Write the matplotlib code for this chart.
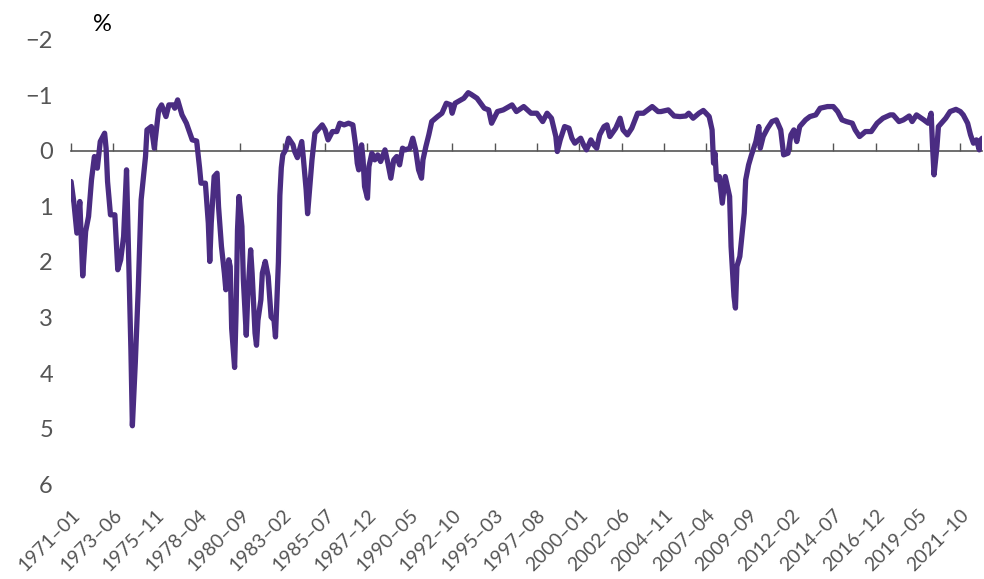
import matplotlib.pyplot as plt
import numpy as np
import pandas as pd

plt.rcParams['font.family'] = ['Lato', 'DejaVu Sans']

months = [
    '1971-01', '1971-03', '1971-05', '1971-07', '1971-09', '1971-11', '1972-01', '1972-03',
    '1972-05', '1972-07', '1972-09', '1972-12', '1973-01', '1973-02', '1973-04', '1973-07',
    '1973-09', '1973-11', '1974-01', '1974-03', '1974-04', '1974-06', '1974-07', '1974-09',
    '1974-11', '1975-01', '1975-04', '1975-05', '1975-08', '1975-10', '1976-01', '1976-03',
    '1976-06', '1976-08', '1976-11', '1976-12', '1977-02', '1977-05', '1977-08', '1977-12',
    '1978-03', '1978-05', '1978-06', '1978-09', '1978-11', '1978-12', '1979-01', '1979-03',
    '1979-05', '1979-06', '1979-08', '1979-10', '1979-11', '1980-01', '1980-02', '1980-03',
    '1980-05', '1980-06', '1980-07', '1980-08', '1980-10', '1980-11', '1981-01', '1981-02',
    '1981-04', '1981-05', '1981-07', '1981-08', '1981-09', '1981-11', '1981-12', '1982-02',
    '1982-04', '1982-06', '1982-08', '1982-09', '1982-11', '1982-12', '1983-01', '1983-02',
    '1983-04', '1983-06', '1983-09', '1983-10', '1983-12', '1984-03', '1984-04', '1984-06',
    '1984-07', '1984-10', '1984-12', '1985-02', '1985-05', '1985-07', '1985-09', '1985-12',
    '1986-03', '1986-05', '1986-08', '1986-11', '1987-02', '1987-04', '1987-05', '1987-06',
    '1987-07', '1987-08', '1987-09', '1987-10', '1987-12', '1988-01', '1988-03', '1988-05',
    '1988-07', '1988-09', '1988-12', '1989-02', '1989-04', '1989-06', '1989-08', '1989-10',
    '1989-12', '1990-02', '1990-05', '1990-07', '1990-09', '1990-11', '1991-01', '1991-02',
    '1991-04', '1991-06', '1991-08', '1991-12', '1992-03', '1992-06', '1992-09', '1992-10',
    '1992-12', '1993-04', '1993-06', '1993-09', '1993-11', '1994-03', '1994-08', '1994-11',
    '1995-01', '1995-05', '1995-09', '1996-03', '1996-06', '1996-11', '1997-04', '1997-08',
    '1997-12', '1998-03', '1998-06', '1998-09', '1998-10', '1998-12', '1999-03', '1999-06',
    '1999-08', '1999-10', '2000-02', '2000-04', '2000-06', '2000-09', '2000-11', '2001-01',
    '2001-03', '2001-06', '2001-08', '2001-10', '2002-02', '2002-05', '2002-07', '2002-10',
    '2003-01', '2003-05', '2003-09', '2004-03', '2004-07', '2004-09', '2005-02', '2005-06',
    '2005-10', '2006-02', '2006-04', '2006-07', '2006-11', '2007-02', '2007-06', '2007-08',
    '2007-09', '2007-10', '2007-11', '2008-01', '2008-03', '2008-05', '2008-07', '2008-08',
    '2008-09', '2008-11', '2008-12', '2009-01', '2009-03', '2009-06', '2009-07', '2009-09',
    '2009-11', '2010-02', '2010-04', '2010-05', '2010-07', '2010-10', '2011-01', '2011-04',
    '2011-07', '2011-09', '2011-12', '2012-02', '2012-04', '2012-06', '2012-08', '2012-12',
    '2013-03', '2013-07', '2013-10', '2014-03', '2014-07', '2014-10', '2015-01', '2015-04',
    '2015-08', '2015-10', '2016-01', '2016-05', '2016-09', '2017-01', '2017-05', '2017-10',
    '2017-12', '2018-04', '2018-07', '2018-11', '2019-01', '2019-04', '2019-09', '2019-12',
    '2020-02', '2020-03', '2020-04', '2020-06', '2020-07', '2020-09', '2020-12', '2021-03',
    '2021-07', '2021-10', '2021-12', '2022-03', '2022-05', '2022-07', '2022-09', '2022-11',
    '2022-12', '2023-01',
]

values = [
    0.55, 0.94, 1.48, 0.91, 2.25, 1.45, 1.18, 0.52,
    0.10, 0.31, -0.17, -0.32, -0.05, 0.55, 1.15, 1.15,
    2.14, 1.96, 1.54, 0.34, 1.42, 3.59, 4.95, 3.82,
    2.50, 0.88, 0.10, -0.38, -0.44, -0.05, -0.74, -0.83,
    -0.62, -0.83, -0.83, -0.77, -0.92, -0.65, -0.50, -0.20,
    -0.18, 0.30, 0.58, 0.58, 1.30, 1.99, 1.30, 0.46,
    0.40, 1.00, 1.72, 2.20, 2.50, 1.96, 2.08, 3.20,
    3.90, 2.92, 1.42, 0.82, 1.36, 2.32, 3.32, 2.62,
    1.78, 2.20, 3.28, 3.50, 3.05, 2.68, 2.20, 1.99,
    2.26, 2.99, 3.05, 3.35, 2.00, 0.80, 0.30, 0.07,
    -0.02, -0.23, -0.11, 0.00, 0.12, -0.17, 0.10, 0.70,
    1.13, 0.16, -0.32, -0.38, -0.47, -0.38, -0.20, -0.35,
    -0.35, -0.50, -0.47, -0.50, -0.47, -0.08, 0.22, 0.34,
    0.01, -0.11, 0.16, 0.64, 0.85, 0.28, 0.04, 0.16,
    0.07, 0.19, -0.02, 0.22, 0.49, 0.16, 0.10, 0.25,
    -0.05, -0.02, -0.05, -0.23, -0.02, 0.34, 0.49, 0.16,
    -0.08, -0.29, -0.53, -0.62, -0.68, -0.86, -0.83, -0.68,
    -0.86, -0.92, -0.95, -1.05, -1.02, -0.95, -0.77, -0.74,
    -0.50, -0.71, -0.74, -0.83, -0.71, -0.80, -0.68, -0.68,
    -0.53, -0.68, -0.59, -0.26, 0.01, -0.20, -0.44, -0.41,
    -0.23, -0.14, -0.23, -0.11, -0.02, -0.20, -0.11, -0.05,
    -0.29, -0.44, -0.47, -0.26, -0.41, -0.59, -0.38, -0.29,
    -0.41, -0.68, -0.68, -0.80, -0.71, -0.71, -0.74, -0.63,
    -0.62, -0.63, -0.68, -0.59, -0.68, -0.73, -0.62, -0.38,
    0.22, 0.04, 0.52, 0.46, 0.94, 0.46, 0.70, 0.82,
    1.72, 2.62, 2.83, 2.08, 1.90, 1.12, 0.52, 0.25,
    0.07, -0.17, -0.44, -0.05, -0.26, -0.41, -0.53, -0.56,
    -0.38, 0.07, 0.04, -0.29, -0.38, -0.17, -0.44, -0.56,
    -0.62, -0.65, -0.77, -0.80, -0.80, -0.71, -0.56, -0.53,
    -0.50, -0.38, -0.26, -0.35, -0.35, -0.50, -0.59, -0.65,
    -0.65, -0.53, -0.56, -0.63, -0.53, -0.65, -0.56, -0.50,
    -0.68, -0.08, 0.43, -0.08, -0.44, -0.50, -0.59, -0.71,
    -0.75, -0.71, -0.65, -0.50, -0.29, -0.14, -0.20, -0.02,
    -0.20, -0.23,
]

tick_labels = ['1971-01', '1973-06', '1975-11', '1978-04', '1980-09', '1983-02',
               '1985-07', '1987-12', '1990-05', '1992-10', '1995-03', '1997-08',
               '2000-01', '2002-06', '2004-11', '2007-04', '2009-09', '2012-02',
               '2014-07', '2016-12', '2019-05', '2021-10']

start = pd.Period('1971-01', freq='M')
x = np.array([(pd.Period(m, freq='M') - start).n for m in months])
xt = np.array([(pd.Period(m, freq='M') - start).n for m in tick_labels])

fig = plt.figure(figsize=(9.84, 5.79), dpi=100)
ax = fig.add_axes([0.0722, 0.164, 0.926, 0.767])

ax.plot(x, values, color='#4a2c82', linewidth=3.8,
        solid_joinstyle='round', solid_capstyle='round')

ax.set_xlim(x[0], x[-1])
ax.set_ylim(6, -2)
ax.set_yticks(range(-2, 7))
ax.set_yticklabels([str(v).replace('-', '\u2212') for v in range(-2, 7)])

for side in ['left', 'right', 'top']:
    ax.spines[side].set_visible(False)
ax.spines['bottom'].set_position(('data', 0))
ax.spines['bottom'].set_color('#555555')
ax.spines['bottom'].set_linewidth(1.2)
ax.spines['bottom'].set_zorder(1)

ax.set_xticks(xt)
ax.tick_params(axis='x', direction='in', length=6, width=1, color='#555555', labelbottom=False)
ax.tick_params(axis='y', length=0, pad=13, labelsize=17, labelcolor='#555555')

sec = ax.secondary_xaxis('bottom')
sec.spines['bottom'].set_visible(False)
sec.set_xticks(xt)
sec.set_xticklabels([t.replace('-', '\u2013') for t in tick_labels],
                    rotation=45, ha='right', rotation_mode='anchor')
sec.tick_params(axis='x', length=0, pad=16, labelsize=14, labelcolor='#555555')

fig.text(0.104, 0.957, '%', fontsize=17, color='black', ha='center', va='center')

fig.savefig('out.png', dpi=100)
